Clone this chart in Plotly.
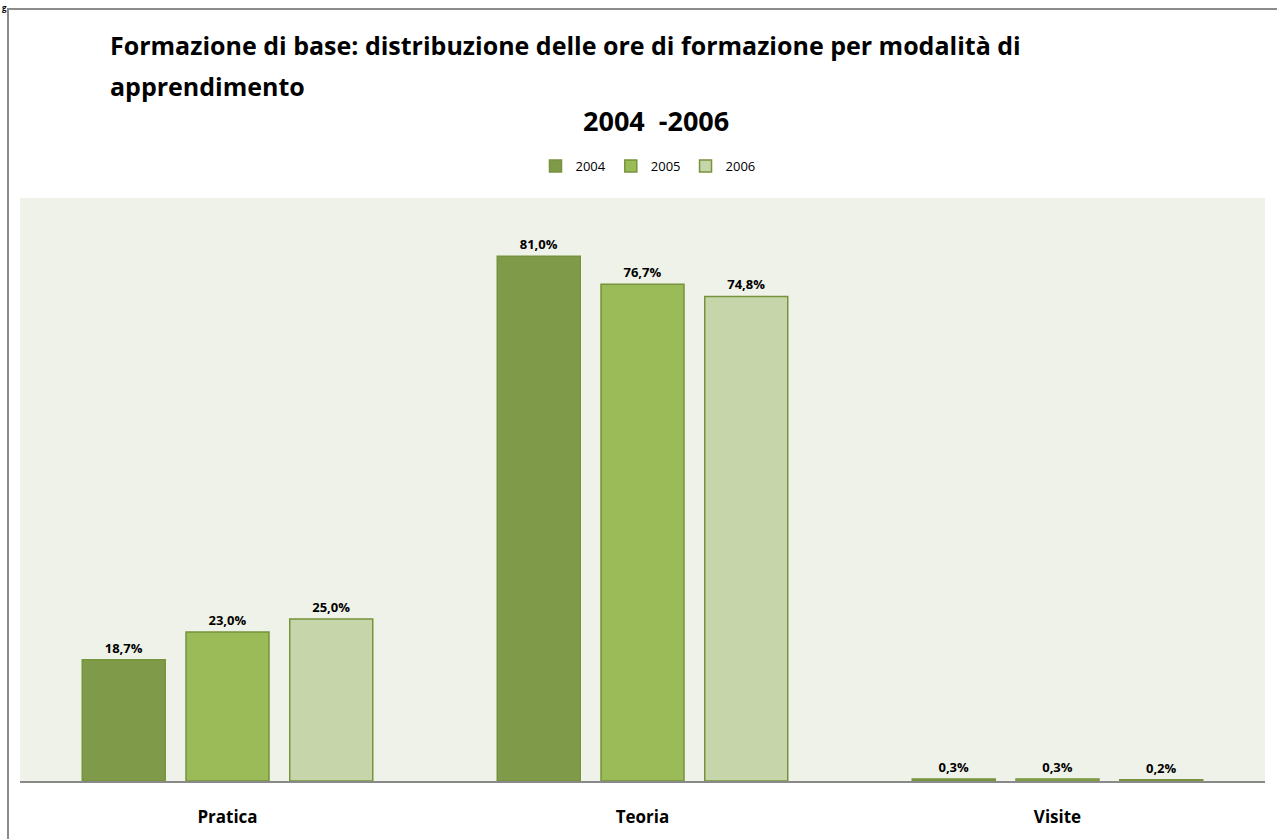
import plotly.graph_objects as go

# Data (% of training hours)
categories = ["Pratica", "Teoria", "Visite"]
years = ["2004", "2005", "2006"]
values_2004 = [18.7, 81.0, 0.3]
values_2005 = [23.0, 76.7, 0.3]
values_2006 = [25.0, 74.8, 0.2]

colors = {"2004": "#7F9A48", "2005": "#9BBB59", "2006": "#C6D6AA"}
series = {"2004": values_2004, "2005": values_2005, "2006": values_2006}

FONT = "Open Sans"

fig = go.Figure()
for y in years:
    fig.add_trace(go.Bar(
        x=categories, y=series[y], name=y,
        marker=dict(color=colors[y], line=dict(color="#77933C", width=1.5)),
        texttemplate="<b>%{y:.1f}%</b>", textposition="outside",
        textfont=dict(family=FONT, size=13, color="#000000"),
        cliponaxis=False,
    ))

W, H = 1277, 839
L, R, T, B = 20, 12, 198, 58
pw, ph = W - L - R, H - T - B

def px_x(p):
    return (p - L) / pw

def px_y(p):
    return (H - B - p) / ph

fig.update_layout(
    width=W, height=H,
    margin=dict(l=L, r=R, t=T, b=B),
    paper_bgcolor="white",
    plot_bgcolor="#EFF2E8",
    separators=",.",
    barmode="group", bargap=0.25, bargroupgap=0.2,
    showlegend=True,
    legend=dict(orientation="h", x=px_x(648), xanchor="center", y=px_y(166), yanchor="middle",
                font=dict(family=FONT, size=13, color="#000000"),
                itemwidth=30, traceorder="normal"),
    xaxis=dict(showgrid=False, showline=True, linecolor="#898989", linewidth=2,
               ticks="", tickfont=dict(family=FONT, size=17, color="#000000"),
               ticklabelstandoff=20,
               tickvals=categories, ticktext=["<b>%s</b>" % c for c in categories]),
    yaxis=dict(range=[0, 90], showgrid=False, showticklabels=False, zeroline=False,
               showline=False, fixedrange=True),
    font=dict(family=FONT, color="#000000"),
)

# titles
fig.add_annotation(text="<b>Formazione di base: distribuzione delle ore di formazione per modalità di</b>",
                   xref="paper", yref="paper", x=px_x(108), y=px_y(45), xanchor="left", yanchor="middle",
                   showarrow=False, font=dict(family=FONT, size=25, color="#000000"))
fig.add_annotation(text="<b>apprendimento</b>",
                   xref="paper", yref="paper", x=px_x(108), y=px_y(86), xanchor="left", yanchor="middle",
                   showarrow=False, font=dict(family=FONT, size=25, color="#000000"))
fig.add_annotation(text="<b>2004  -2006</b>",
                   xref="paper", yref="paper", x=px_x(656), y=px_y(120), xanchor="center", yanchor="middle",
                   showarrow=False, font=dict(family=FONT, size=27, color="#000000"))
fig.add_annotation(text="<b>g</b>",
                   xref="paper", yref="paper", x=px_x(1), y=px_y(1), xanchor="left", yanchor="top",
                   showarrow=False, borderpad=0, font=dict(family=FONT, size=8, color="#000000"))

# outer frame
fig.add_shape(type="rect", xref="paper", yref="paper",
              x0=px_x(8), x1=px_x(1290), y0=px_y(850), y1=px_y(9),
              line=dict(color="#8C8C8C", width=2), fillcolor="rgba(0,0,0,0)", layer="below")

fig.write_html("out.html", config={"displayModeBar": False},
               post_script="document.body.style.margin='0';")
